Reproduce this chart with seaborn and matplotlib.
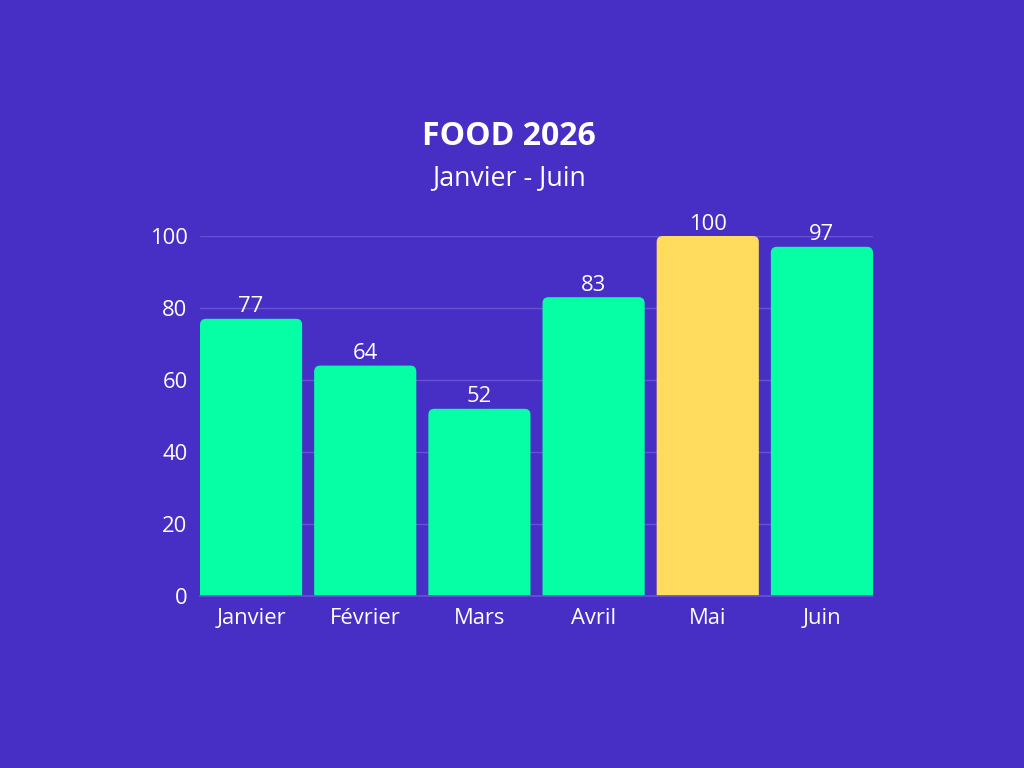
import matplotlib.pyplot as plt
import seaborn as sns
import pandas as pd
from matplotlib.path import Path
from matplotlib.patches import PathPatch

months = ["Janvier", "Février", "Mars", "Avril", "Mai", "Juin"]
values = [77, 64, 52, 83, 100, 97]
highlight = "Mai"

bg = "#472EC5"
green = "#06FFA5"
yellow = "#FFDC5E"
grid = "#6552D4"

df = pd.DataFrame({"month": months, "value": values})
colors = [yellow if m == highlight else green for m in months]

sns.set_theme(style="white")
plt.rcParams["font.family"] = ["Open Sans", "DejaVu Sans"]

fig = plt.figure(figsize=(10.24, 7.68), dpi=100, facecolor=bg)
ax = fig.add_axes([200 / 1024, 1 - 596 / 768, 673 / 1024, 360 / 768])
ax.set_facecolor(bg)

bw = 102 / 114
sns.barplot(data=df, x="month", y="value", hue="month", palette=colors,
            saturation=1, width=bw, legend=False, ax=ax, zorder=3)
ax.set_xlim(-bw / 2, 5 + bw / 2)
ax.set_ylim(0, 100)


def top_rounded(x, w, h, rx, ry):
    verts = [(x, 0), (x, h - ry), (x, h), (x + rx, h),
             (x + w - rx, h), (x + w, h), (x + w, h - ry),
             (x + w, 0), (x, 0)]
    codes = [Path.MOVETO, Path.LINETO, Path.CURVE3, Path.CURVE3,
             Path.LINETO, Path.CURVE3, Path.CURVE3,
             Path.LINETO, Path.CLOSEPOLY]
    return Path(verts, codes)


# rounded top corners, ~6 px
rx = 6 / 114
ry = 6 * 100 / 360
for p in list(ax.patches):
    x, w, h = p.get_x(), p.get_width(), p.get_height()
    c = p.get_facecolor()
    p.remove()
    ax.add_patch(PathPatch(top_rounded(x, w, h, rx, ry), facecolor=c,
                           edgecolor="none", zorder=3))
    ax.text(x + w / 2, h + 0.4, f"{h:.0f}", ha="center", va="bottom",
            color="white", fontsize=15.8, zorder=4)

ax.set_yticks([0, 20, 40, 60, 80, 100])
ax.yaxis.grid(True, color=grid, linewidth=1, zorder=0)
ax.xaxis.grid(False)
for s in ["top", "right", "left"]:
    ax.spines[s].set_visible(False)
ax.spines["bottom"].set_color(grid)
ax.spines["bottom"].set_zorder(5)
ax.tick_params(axis="x", length=0, pad=9, labelcolor="white", labelsize=15.8)
ax.tick_params(axis="y", length=0, pad=9, labelcolor="white", labelsize=15.8)
ax.set_xlabel("")
ax.set_ylabel("")

fig.text(509 / 1024, 1 - 145 / 768, "FOOD 2026", ha="center", va="baseline",
         color="white", fontsize=23, fontweight="bold")
fig.text(509 / 1024, 1 - 185 / 768, "Janvier - Juin", ha="center", va="baseline",
         color="white", fontsize=19.3)

fig.savefig("out.png", dpi=100, facecolor=bg)
